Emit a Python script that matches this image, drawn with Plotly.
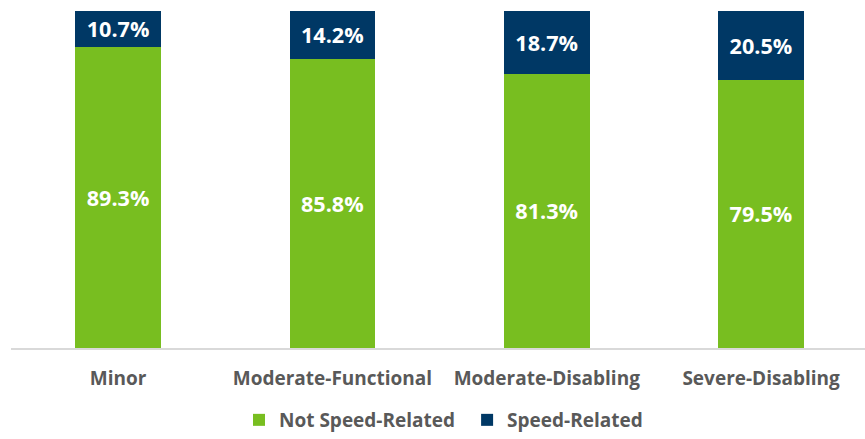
import plotly.graph_objects as go

categories = ["Minor", "Moderate-Functional", "Moderate-Disabling", "Severe-Disabling"]
not_speed = [89.3, 85.8, 81.3, 79.5]
speed = [10.7, 14.2, 18.7, 20.5]

GREEN = "#78BE20"
NAVY = "#003865"
GRAY = "#595959"
FONT = "Open Sans"

label_font = dict(color="white", size=23, family=FONT, weight="bold")
legend_font = dict(family=FONT, size=19, color=GRAY, weight="bold")

fig = go.Figure()
fig.add_trace(go.Bar(
    name="Not Speed-Related", x=categories, y=not_speed,
    marker=dict(color=GREEN, line=dict(width=0)),
    text=[f"{v:.1f}%" for v in not_speed], textposition="inside",
    insidetextanchor="middle", textangle=0, textfont=label_font,
    width=0.4, legend="legend",
))
fig.add_trace(go.Bar(
    name="Speed-Related", x=categories, y=speed,
    marker=dict(color=NAVY, line=dict(width=0)),
    text=[f"{v:.1f}%" for v in speed], textposition="inside",
    insidetextanchor="middle", textangle=0, textfont=label_font,
    width=0.4, legend="legend2",
))

fig.update_layout(
    barmode="stack",
    width=865, height=439,
    margin=dict(l=11, r=0, t=11, b=91, autoexpand=False),
    paper_bgcolor="white", plot_bgcolor="white",
    uniformtext=dict(minsize=8, mode="show"),
    showlegend=True,
    legend=dict(
        orientation="h", xref="container", x=0.2763, xanchor="left",
        yref="container", y=-0.012, yanchor="bottom",
        font=legend_font, itemwidth=30,
    ),
    legend2=dict(
        orientation="h", xref="container", x=0.54, xanchor="left",
        yref="container", y=-0.012, yanchor="bottom",
        font=legend_font, itemwidth=30,
    ),
    xaxis=dict(
        range=[-0.5, 3.485], showgrid=False, showline=True,
        linecolor="#D9D9D9", linewidth=1.5, ticks="",
        ticklabelstandoff=12, automargin=False,
        tickfont=dict(family=FONT, size=19, color=GRAY, weight="bold"),
    ),
    yaxis=dict(range=[0, 100], visible=False, showgrid=False),
)

fig.write_html("out.html")
